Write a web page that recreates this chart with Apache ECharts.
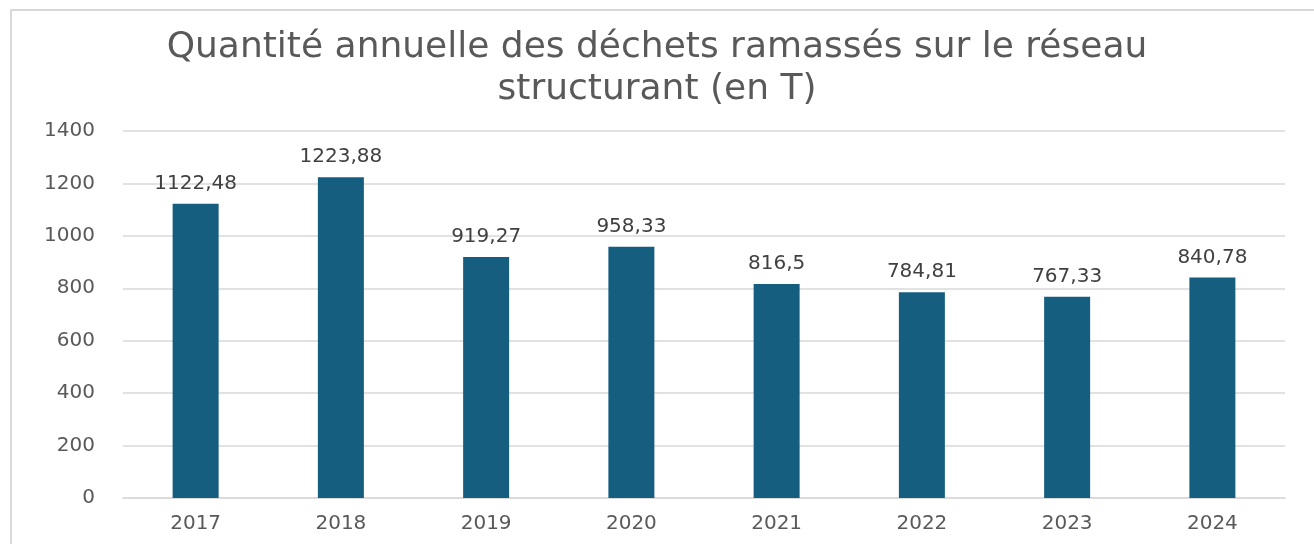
<!DOCTYPE html>
<html>
<head>
<meta charset="utf-8">
<script src="https://cdn.jsdelivr.net/npm/echarts@6/dist/echarts.min.js"></script>
<style>
html, body { margin: 0; padding: 0; background: #fff; }
#wrap { position: absolute; left: 0; top: 0; width: 1314px; height: 544px; overflow: hidden; }
#frame { position: absolute; left: 10px; top: 9px; width: 1320px; height: 560px; border-top: 2px solid #d9d9d9; border-left: 2px solid #d9d9d9; }
#chart { position: absolute; left: 0; top: 0; width: 1314px; height: 544px; }
</style>
</head>
<body>
<div id="wrap">
  <div id="frame"></div>
  <div id="chart"></div>
</div>
<script>
var years = ['2017', '2018', '2019', '2020', '2021', '2022', '2023', '2024'];
var tonnes = [1122.48, 1223.88, 919.27, 958.33, 816.5, 784.81, 767.33, 840.78];
var titleText = 'Quantité annuelle des déchets ramassés sur le réseau\nstructurant (en T)';

var chart = echarts.init(document.getElementById('chart'));

var option = {
    animation: false,
    title: {
        text: titleText,
        left: 'center',
        top: 22,
        textStyle: {
            fontFamily: 'DejaVu Sans',
            fontSize: 36,
            fontWeight: 'normal',
            color: '#595959',
            lineHeight: 42
        }
    },
    grid: {
        left: 123,
        right: 29,
        top: 131,
        bottom: 46
    },
    xAxis: {
        type: 'category',
        data: years,
        axisLine: { show: true, lineStyle: { color: '#d9d9d9', width: 1.5 } },
        axisTick: { show: false },
        axisLabel: {
            color: '#595959',
            fontFamily: 'DejaVu Sans',
            fontSize: 20,
            margin: 16
        }
    },
    yAxis: {
        type: 'value',
        min: 0,
        max: 1400,
        interval: 200,
        axisLine: { show: false },
        axisTick: { show: false },
        splitLine: { lineStyle: { color: '#d9d9d9', width: 1.5 } },
        axisLabel: {
            color: '#595959',
            fontFamily: 'DejaVu Sans',
            fontSize: 20,
            margin: 28,
            formatter: function (v) { return String(v); }
        }
    },
    series: [{
        type: 'bar',
        data: tonnes,
        barWidth: 46,
        itemStyle: { color: '#165E80' },
        label: {
            show: true,
            position: 'top',
            distance: 10,
            color: '#404040',
            fontFamily: 'DejaVu Sans',
            fontSize: 20,
            formatter: function (p) {
                return String(p.value).replace('.', ',');
            }
        }
    }]
};

chart.setOption(option);
</script>
</body>
</html>
